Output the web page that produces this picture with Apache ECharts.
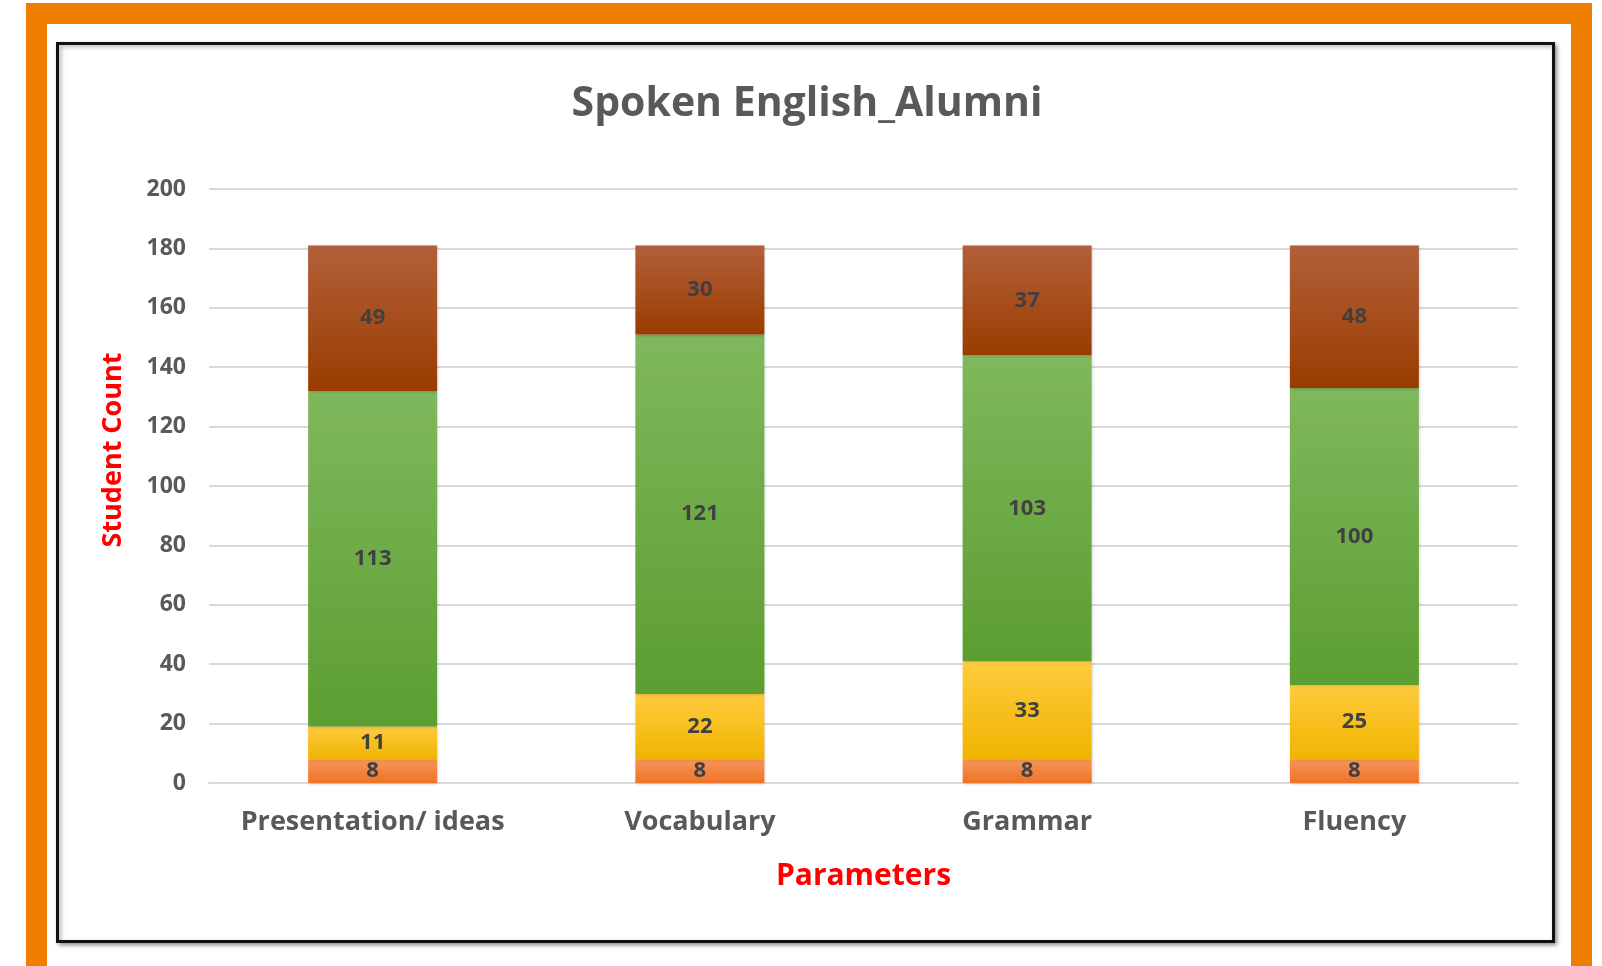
<!DOCTYPE html>
<html>
<head>
<meta charset="utf-8">
<title>Spoken English_Alumni</title>
<script src="https://cdn.jsdelivr.net/npm/echarts@6/dist/echarts.min.js"></script>
<style>
  html, body { margin: 0; padding: 0; background: #ffffff; }
  #chart { width: 1602px; height: 966px; }
</style>
</head>
<body>
<div id="chart"></div>
<script>
// Chart data
const categories = ['Presentation/ ideas', 'Vocabulary', 'Grammar', 'Fluency'];
const seriesNames = ['Poor', 'Average', 'Good', 'Excellent'];
const poorValues = [8, 8, 8, 8];
const averageValues = [11, 22, 33, 25];
const goodValues = [113, 121, 103, 100];
const excellentValues = [49, 30, 37, 48];
const yTicks = { min: 0, max: 200, interval: 20 };

const FONT = '"Open Sans", Lato, sans-serif';

function grad(top, bottom) {
  return new echarts.graphic.LinearGradient(0, 0, 0, 1, [
    { offset: 0, color: top },
    { offset: 1, color: bottom }
  ]);
}

const fills = [
  grad('#F7955A', '#EE7326'),
  grad('#FFCB3E', '#F0B400'),
  grad('#7FB85D', '#5C9E30'),
  grad('#B2603A', '#9A3C00')
];

const valueSets = [poorValues, averageValues, goodValues, excellentValues];

const series = valueSets.map((vals, i) => ({
  name: seriesNames[i],
  type: 'bar',
  stack: 'total',
  barWidth: 129,
  data: vals,
  itemStyle: {
    color: fills[i],
    shadowColor: 'rgba(0,0,0,0.18)',
    shadowBlur: 3,
    shadowOffsetX: 1,
    shadowOffsetY: 1
  },
  label: {
    show: true,
    position: 'inside',
    color: '#404040',
    fontFamily: FONT,
    fontWeight: 'bold',
    fontSize: 22
  },
  emphasis: { disabled: true }
}));

const chart = echarts.init(document.getElementById('chart'), null, { renderer: 'canvas' });

chart.setOption({
  backgroundColor: '#ffffff',
  animation: false,
  title: {
    text: 'Spoken English_Alumni',
    left: 802,
    top: 79,
    textAlign: 'center',
    textStyle: {
      color: '#595959',
      fontFamily: FONT,
      fontWeight: 'bold',
      fontSize: 41
    }
  },
  graphic: [
    {
      type: 'rect',
      z: -10,
      shape: { x: 36.5, y: 13.5, width: 1545, height: 965 },
      style: { fill: 'none', stroke: '#EF7D00', lineWidth: 21 }
    },
    {
      type: 'rect',
      z: -9,
      shape: { x: 57.5, y: 43.5, width: 1496, height: 898 },
      style: {
        fill: '#ffffff',
        stroke: '#111111',
        lineWidth: 3,
        shadowColor: 'rgba(0,0,0,0.35)',
        shadowBlur: 4,
        shadowOffsetX: 2,
        shadowOffsetY: 2
      }
    }
  ],
  grid: {
    left: 209,
    right: 84,
    top: 189,
    bottom: 183,
    containLabel: false
  },
  xAxis: {
    type: 'category',
    data: categories,
    name: 'Parameters',
    nameLocation: 'middle',
    nameGap: 78,
    nameTextStyle: {
      color: '#FF0000',
      fontFamily: FONT,
      fontWeight: 'bold',
      fontSize: 30
    },
    axisLine: { show: true, lineStyle: { color: '#D9D9D9', width: 2 } },
    axisTick: { show: false },
    axisLabel: {
      interval: 0,
      color: '#595959',
      fontFamily: FONT,
      fontWeight: 'bold',
      fontSize: 27,
      margin: 26
    }
  },
  yAxis: {
    type: 'value',
    min: yTicks.min,
    max: yTicks.max,
    interval: yTicks.interval,
    name: 'Student Count',
    nameLocation: 'middle',
    nameGap: 82,
    nameRotate: 90,
    nameTextStyle: {
      color: '#FF0000',
      fontFamily: FONT,
      fontWeight: 'bold',
      fontSize: 27,
      padding: [0, 0, 0, 72]
    },
    axisLine: { show: false },
    axisTick: { show: false },
    axisLabel: {
      color: '#595959',
      fontFamily: FONT,
      fontWeight: 'bold',
      fontSize: 23,
      margin: 23
    },
    splitLine: { lineStyle: { color: '#D9D9D9', width: 2 } }
  },
  series: series
});
</script>
</body>
</html>
